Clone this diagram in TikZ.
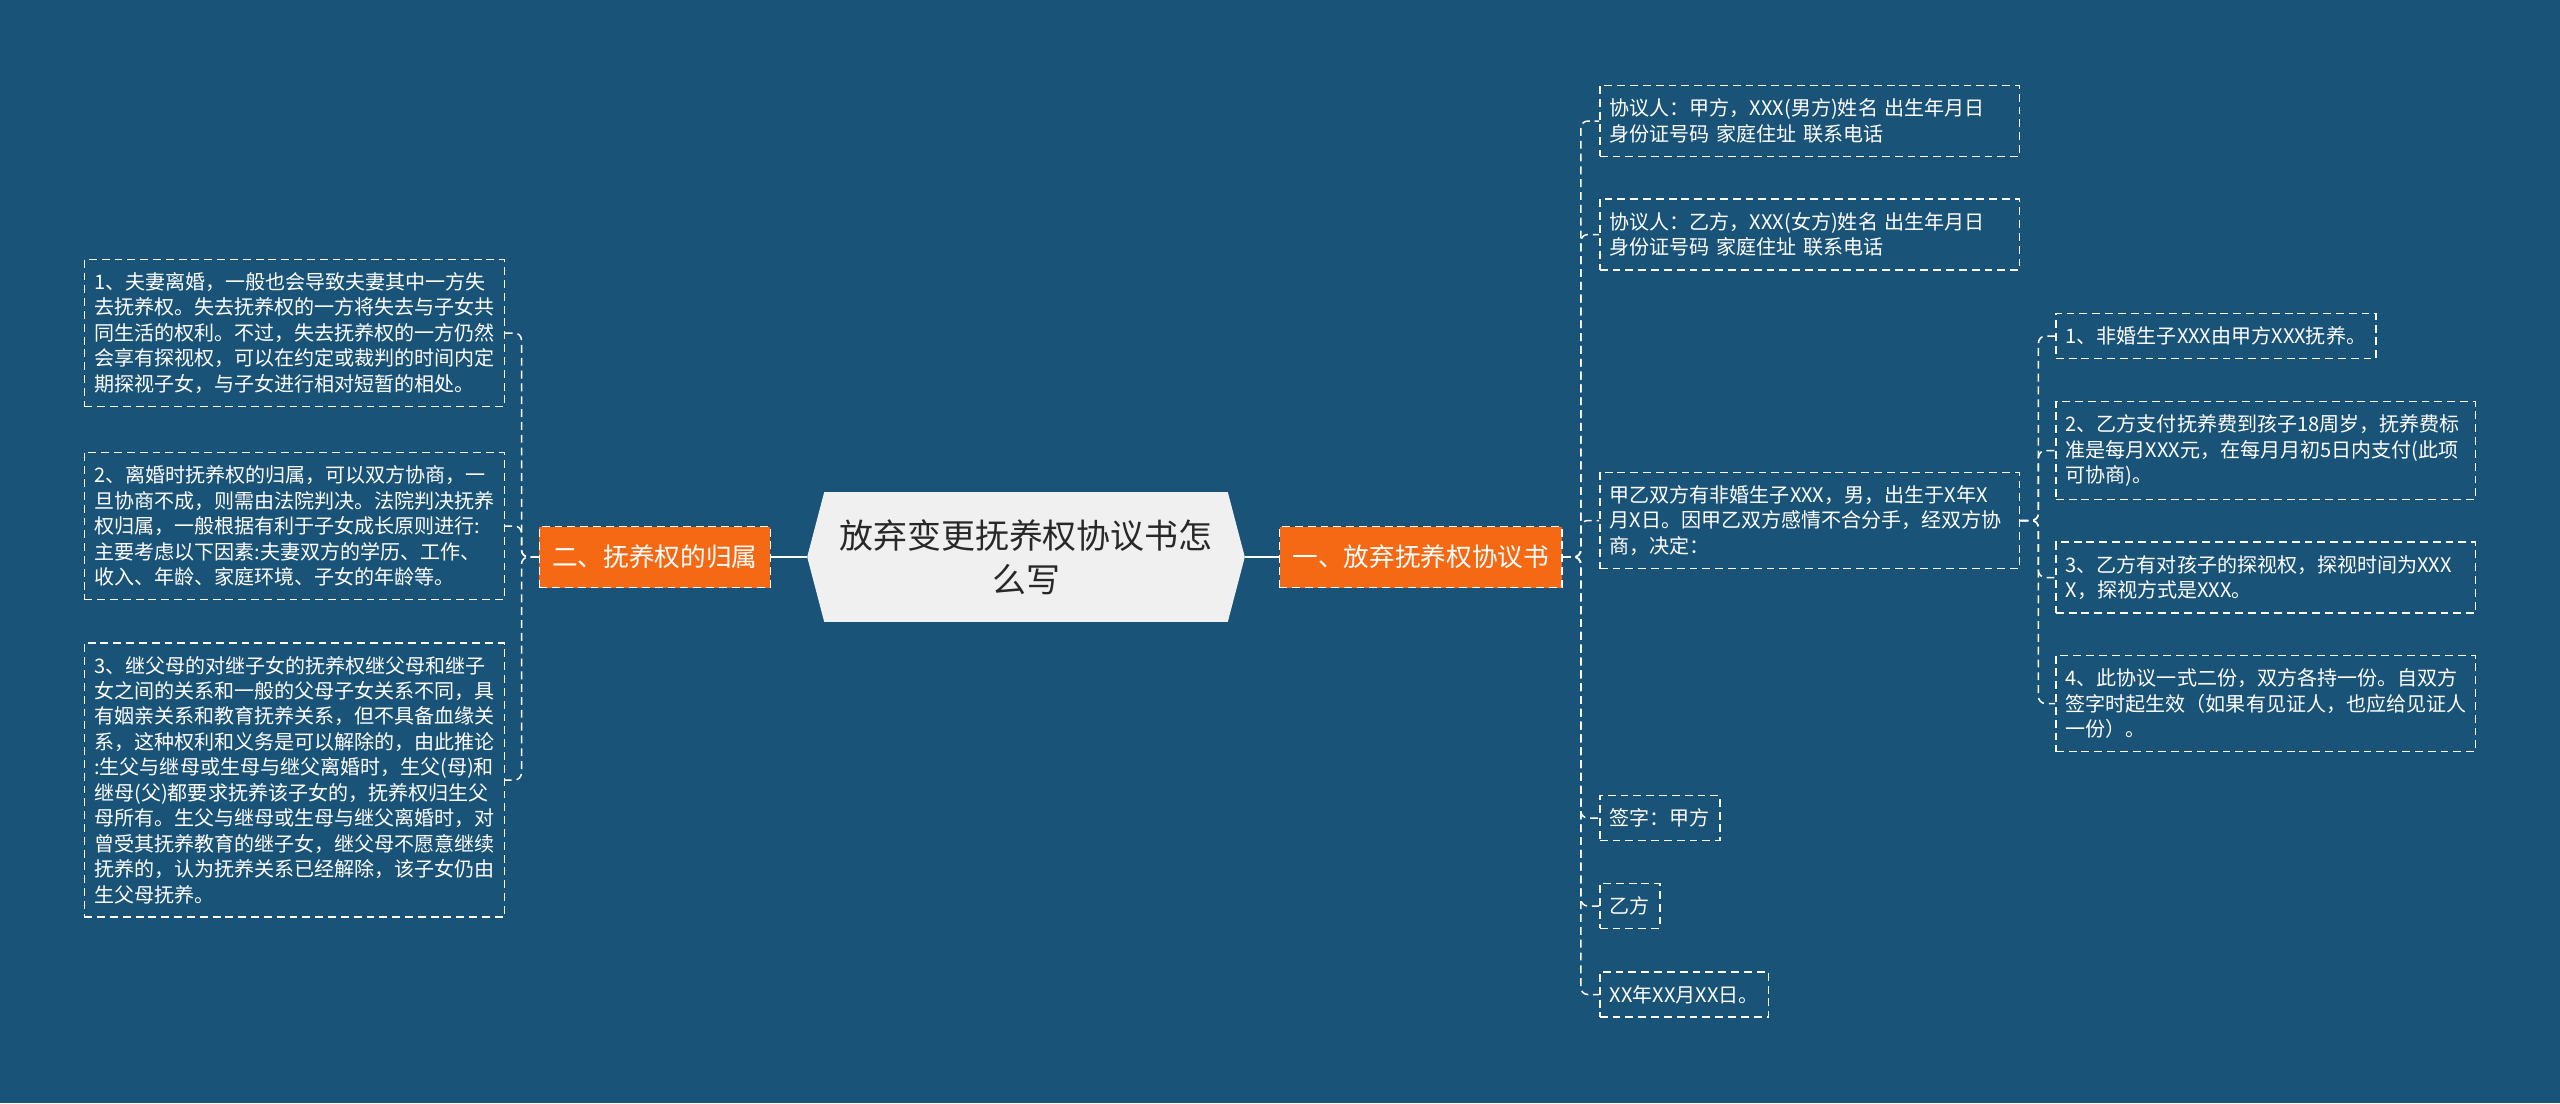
\documentclass[tikz,border=0pt]{standalone}
\usepackage{fontspec}
\setmainfont{Noto Sans CJK SC}
\usetikzlibrary{positioning,calc,backgrounds}

\definecolor{bgblue}{RGB}{26,83,120}
\definecolor{branchorange}{RGB}{245,105,20}
\definecolor{rootgray}{RGB}{240,240,240}
\definecolor{rootink}{RGB}{40,40,40}

\begin{document}
\begin{tikzpicture}[x=0.02cm,y=-0.02cm]
            \tikzstyle{every node}=[font=\fontsize{11.4}{14.5}\selectfont, text=white, inner xsep=0.2cm, inner ysep=7.5pt]
            \tikzstyle{dashbox}=[draw=white, dash pattern=on 4.5pt off 2.8pt, line width=0.85pt, align=left]
            \tikzstyle{leaf}=[dashbox, text width=8cm]
            \tikzstyle{tag}=[dashbox]
            \tikzstyle{root}=[font=\fontsize{19.3}{25}\selectfont, text=rootink, align=center, minimum width=8.06cm, minimum height=2.58cm]
            \tikzstyle{branch}=[dashbox, fill=branchorange, font=\fontsize{14.6}{17}\selectfont, inner xsep=0.26cm, minimum height=1.22cm]
            \tikzstyle{link}=[white, dash pattern=on 4.5pt off 2.8pt, line width=0.85pt, rounded corners=4pt]
            \tikzstyle{trunk}=[white, line width=1.6pt]
            \tikzstyle{busL}=[to path={-- ++(-17,0) |- (\tikztotarget)}]
            \tikzstyle{busR}=[to path={-- ++(18,0) |- (\tikztotarget)}]

            \node[root]   (root)      at (1026,557)        {放弃变更抚养权协议书怎\\么写};
            \node[branch] (custody)   [left=1.06cm of root]  {二、抚养权的归属};
            \node[branch] (agreement) [right=1.02cm of root] {一、放弃抚养权协议书};

            \coordinate (rootL) at ($(root.west)+(-17,0)$);
            \coordinate (rootR) at ($(root.east)+(17,0)$);

            % left side
            \node[leaf, anchor=east] (loss)    at (505,333) {1、夫妻离婚，一般也会导致夫妻其中一方失\\去抚养权。失去抚养权的一方将失去与子女共\\同生活的权利。不过，失去抚养权的一方仍然\\会享有探视权，可以在约定或裁判的时间内定\\期探视子女，与子女进行相对短暂的相处。};
            \node[leaf, anchor=east] (divorce) at (505,526) {2、离婚时抚养权的归属，可以双方协商，一\\旦协商不成，则需由法院判决。法院判决抚养\\权归属，一般根据有利于子女成长原则进行:\\主要考虑以下因素:夫妻双方的学历、工作、\\收入、年龄、家庭环境、子女的年龄等。};
            \node[leaf, anchor=east] (step)    at (505,780) {3、继父母的对继子女的抚养权继父母和继子\\女之间的关系和一般的父母子女关系不同，具\\有姻亲关系和教育抚养关系，但不具备血缘关\\系，这种权利和义务是可以解除的，由此推论\\:生父与继母或生母与继父离婚时，生父(母)和\\继母(父)都要求抚养该子女的，抚养权归生父\\母所有。生父与继母或生母与继父离婚时，对\\曾受其抚养教育的继子女，继父母不愿意继续\\抚养的，认为抚养关系已经解除，该子女仍由\\生父母抚养。};

            % right side
            \node[leaf, anchor=west] (partyA) at (1599,121)   {协议人：甲方，XXX(男方)姓名 出生年月日\\身份证号码 家庭住址 联系电话};
            \node[leaf, anchor=west] (partyB) at (1599,234.5) {协议人：乙方，XXX(女方)姓名 出生年月日\\身份证号码 家庭住址 联系电话};
            \node[leaf, anchor=west] (facts)  at (1599,520.5) {甲乙双方有非婚生子XXX，男，出生于X年X\\月X日。因甲乙双方感情不合分手，经双方协\\商，决定：};
            \node[tag,  anchor=west] (signA)  at (1599,818)   {签字：甲方};
            \node[tag,  anchor=west] (signB)  at (1599,906)   {乙方};
            \node[tag,  anchor=west] (date)   at (1599,994.5) {XX年XX月XX日。};

            \node[tag,  anchor=west] (term1) at (2055,336)   {1、非婚生子XXX由甲方XXX抚养。};
            \node[leaf, anchor=west] (term2) at (2055,450.5) {2、乙方支付抚养费到孩子18周岁，抚养费标\\准是每月XXX元，在每月月初5日内支付(此项\\可协商)。};
            \node[leaf, anchor=west] (term3) at (2055,577.5) {3、乙方有对孩子的探视权，探视时间为XXX\\X，探视方式是XXX。};
            \node[leaf, anchor=west] (term4) at (2055,703.5) {4、此协议一式二份，双方各持一份。自双方\\签字时起生效（如果有见证人，也应给见证人\\一份）。};

            \begin{scope}[on background layer]
                \fill[bgblue] (0,0) rectangle (2560,1103);
                \fill[rootgray] (root.north west) -- (root.north east) -- (rootR)
                    -- (root.south east) -- (root.south west) -- (rootL) -- cycle;
            \end{scope}

            \draw[trunk] (rootL) -- (custody);
            \draw[trunk] (rootR) -- (agreement);

            \path[link]
                (custody.west) edge[busL] (loss.east)
                (custody.west) edge[busL] (divorce.east)
                (custody.west) edge[busL] (step.east)

                (agreement.east) edge[busR] (partyA.west)
                (agreement.east) edge[busR] (partyB.west)
                (agreement.east) edge[busR] (facts.west)
                (agreement.east) edge[busR] (signA.west)
                (agreement.east) edge[busR] (signB.west)
                (agreement.east) edge[busR] (date.west)

                (facts.east) edge[busR] (term1.west)
                (facts.east) edge[busR] (term2.west)
                (facts.east) edge[busR] (term3.west)
                (facts.east) edge[busR] (term4.west)
                ;
\end{tikzpicture}
\end{document}
